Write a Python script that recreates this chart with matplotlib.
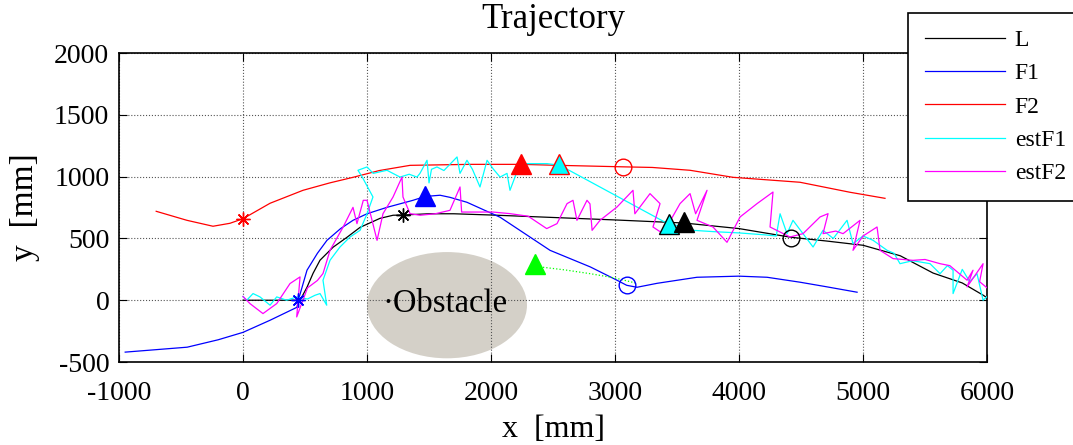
import matplotlib
matplotlib.use("Agg")
import matplotlib.pyplot as plt
from matplotlib.patches import Ellipse

plt.rcParams['font.family'] = ['Liberation Serif', 'DejaVu Serif']
plt.rcParams['axes.unicode_minus'] = False

# ---- data (mm) ----
L_x = [0, 200, 460, 516, 565, 621, 726, 839, 944, 1105, 1210, 1290, 1500, 1700, 2000, 2500, 3000,
       3560, 4000, 4417, 4700, 5000, 5300, 5565, 5800, 5970, 6000]
L_y = [0, 0, 0, 105, 218, 324, 429, 510, 590, 663, 688, 690, 700, 700, 690, 670, 650,
       625, 580, 510, 480, 445, 360, 220, 140, 40, 20]

F1_x = [-950, -700, -450, -200, 0, 218, 435, 446, 516, 600, 677, 787, 887, 1000, 1161, 1371, 1468, 1589,
        1669, 1806, 2073, 2476, 2800, 3016, 3094, 3177, 3339, 3661, 4000, 4226, 4492, 4700, 4952]
F1_y = [-420, -400, -380, -320, -260, -162, -57, 0, 243, 380, 485, 580, 647, 700, 752, 809, 840, 850,
        833, 793, 672, 404, 270, 162, 121, 105, 137, 186, 195, 186, 146, 110, 65]

F2_x = [-700, -452, -242, -105, 0, 218, 484, 700, 887, 1100, 1347, 1830, 2239, 2548, 3062, 3300,
        3605, 3952, 4492, 4895, 5177]
F2_y = [720, 647, 599, 623, 660, 785, 890, 950, 995, 1050, 1092, 1100, 1100, 1092, 1080, 1075,
        1052, 995, 955, 874, 825]

estF1_x = [0, 30, 81, 137, 218, 272, 352, 433, 520, 580, 621, 675, 645, 702, 782, 863, 944, 1000,
           1048, 960, 927, 1000, 1050, 1161, 1266, 1340, 1403, 1427, 1484, 1500, 1520, 1564, 1620, 1726,
           1750, 1806, 1850, 1911, 1968, 2020, 2073, 2129, 2153, 2234, 2339, 2452, 2556,
           3419, 3520, 3629, 3800, 4000, 4200, 4300, 4331, 4387, 4435, 4500, 4597, 4677, 4760,
           4871, 4919, 5000, 5081, 5194, 5250, 5298, 5400, 5540, 5621, 5680, 5726, 5726, 5800,
           5860, 5919, 5968, 6000]
estF1_y = [30, 0, 54, 27, -40, 27, 0, 27, 10, 40, 54, -40, 162, 324, 431, 512, 566, 700,
           836, 1000, 1052, 1079, 1027, 1052, 997, 1020, 997, 1027, 1133, 950, 1060, 1079, 1050, 1160,
           1027, 1133, 1060, 917, 1133, 1060, 997, 1027, 890, 1106, 1106, 1106, 1092,
           623, 600, 566, 555, 545, 530, 520, 700, 539, 647, 560, 431, 566, 500,
           647, 458, 520, 485, 404, 380, 296, 320, 296, 215, 280, 243, 54, 250,
           150, 215, 0, 30]

estF2_x = [0, 56, 161, 272, 379, 460, 433, 520, 600, 645, 702, 806, 887, 919, 970, 1000, 1081,
           1129, 1210, 1282, 1290, 1347, 1427, 1550, 1669, 1750, 1763, 1900, 2016, 2153, 2300,
           2449, 2532, 2613, 2661, 2693, 2774, 2798, 2815, 2879, 3016, 3145, 3160, 3282, 3363,
           3306, 3387, 3524, 3605, 3650, 3742, 3661, 3790, 3903, 4008, 4145, 4274, 4250, 4411,
           4516, 4653, 4718, 4677, 4780, 4839, 4976, 4919, 5000, 5113, 5137, 5242, 5403, 5500,
           5621, 5700, 5839, 5887, 5839, 5968, 5940, 6000]
estF2_y = [30, -27, -108, -27, 135, 189, -135, 100, 160, 216, 405, 590, 752, 620, 809, 809, 485,
           701, 836, 997, 836, 701, 688, 700, 728, 917, 714, 714, 714, 701, 680,
           580, 620, 782, 809, 647, 809, 780, 566, 647, 755, 890, 700, 863, 782,
           593, 539, 782, 863, 700, 890, 647, 593, 469, 674, 782, 876, 593, 512,
           539, 674, 701, 539, 560, 539, 647, 404, 520, 593, 404, 337, 323, 330,
           296, 280, 162, 243, 108, 296, 150, 100]

green_x = [2419, 2600, 2800, 3000, 3177]
green_y = [267, 245, 215, 180, 137]

obst_cx, obst_cy, obst_w, obst_h = 1645, -40, 1290, 860

x_ticks = [-1000, 0, 1000, 2000, 3000, 4000, 5000, 6000]
y_ticks = [-500, 0, 500, 1000, 1500, 2000]

fig = plt.figure(figsize=(10.73, 4.45), dpi=100)
ax = fig.add_axes([0.1109, 0.1865, 0.809, 0.694])

ax.add_patch(Ellipse((obst_cx, obst_cy), obst_w, obst_h, facecolor='#d4d0c8', edgecolor='none', zorder=1))
ax.text(1125, -30, '·Obstacle', fontsize=23.5, va='center', ha='left', zorder=2)

lw = 0.9
hL, = ax.plot(L_x, L_y, color='black', lw=lw, label='L', zorder=3)
hF1, = ax.plot(F1_x, F1_y, color='#0000ff', lw=lw, label='F1', zorder=3)
hF2, = ax.plot(F2_x, F2_y, color='#ff0000', lw=lw, label='F2', zorder=3)
hE1, = ax.plot(estF1_x, estF1_y, color='#00ffff', lw=lw, label='estF1', zorder=3)
hE2, = ax.plot(estF2_x, estF2_y, color='#ff00ff', lw=lw, label='estF2', zorder=3)
ax.plot(green_x, green_y, color='#00ff00', lw=lw, ls=':', zorder=3)

# markers
ast = (8, 2, 0)
ax.plot([0], [660], marker=ast, color='red', mec='red', ms=10, mew=1, zorder=4, ls='none')
ax.plot([446], [0], marker=ast, color='blue', mec='blue', ms=10, mew=1, zorder=4, ls='none')
ax.plot([1288], [690], marker=ast, color='black', mec='black', ms=10, mew=1, zorder=4, ls='none')
ms_t = 14
ax.plot([1468], [843], marker='^', color='blue', ms=ms_t, zorder=5, ls='none')
ax.plot([2239], [1106], marker='^', color='red', ms=ms_t, zorder=5, ls='none')
ax.plot([2548], [1106], marker='^', mfc='cyan', mec='red', ms=ms_t, zorder=5, ls='none')
ax.plot([2355], [297], marker='^', color='#00ff00', ms=ms_t, zorder=5, ls='none')
ax.plot([3433], [617], marker='^', mfc='cyan', mec='black', ms=ms_t, zorder=5, ls='none')
ax.plot([3559], [637], marker='^', color='black', ms=ms_t, zorder=5, ls='none')
ax.plot([3062], [1079], marker='o', mfc='none', mec='red', ms=12, zorder=5, ls='none')
ax.plot([3094], [121], marker='o', mfc='none', mec='blue', ms=12, zorder=5, ls='none')
ax.plot([4417], [507], marker='o', mfc='none', mec='black', ms=12, zorder=5, ls='none')

ax.set_xlim(-1000, 6000)
ax.set_ylim(-500, 2000)
ax.set_xticks(x_ticks)
ax.set_yticks(y_ticks)
ax.tick_params(labelsize=20, direction='in', length=6, top=True, right=True)
ax.tick_params(axis='x', pad=14)
ax.tick_params(axis='y', pad=7)
ax.grid(True, color='#555555', ls=':', lw=0.8)
for s in ax.spines.values():
    s.set_linewidth(1.2)

ax.set_title('Trajectory', fontsize=25, pad=18)
ax.set_xlabel('x  [mm]', fontsize=23, labelpad=6)
ax.set_ylabel('y  [mm]', fontsize=24, labelpad=10)

leg = fig.legend(handles=[hL, hF1, hF2, hE1, hE2], loc='upper left',
                 bbox_to_anchor=(908 / 1073, 1 - 13 / 445), borderaxespad=0, fontsize=17,
                 frameon=True, fancybox=False, edgecolor='black', framealpha=1,
                 handlelength=3.4, labelspacing=0.5, borderpad=0.7, handletextpad=0.42)
leg.get_frame().set_linewidth(1.2)

fig.savefig('out.png', dpi=100)
